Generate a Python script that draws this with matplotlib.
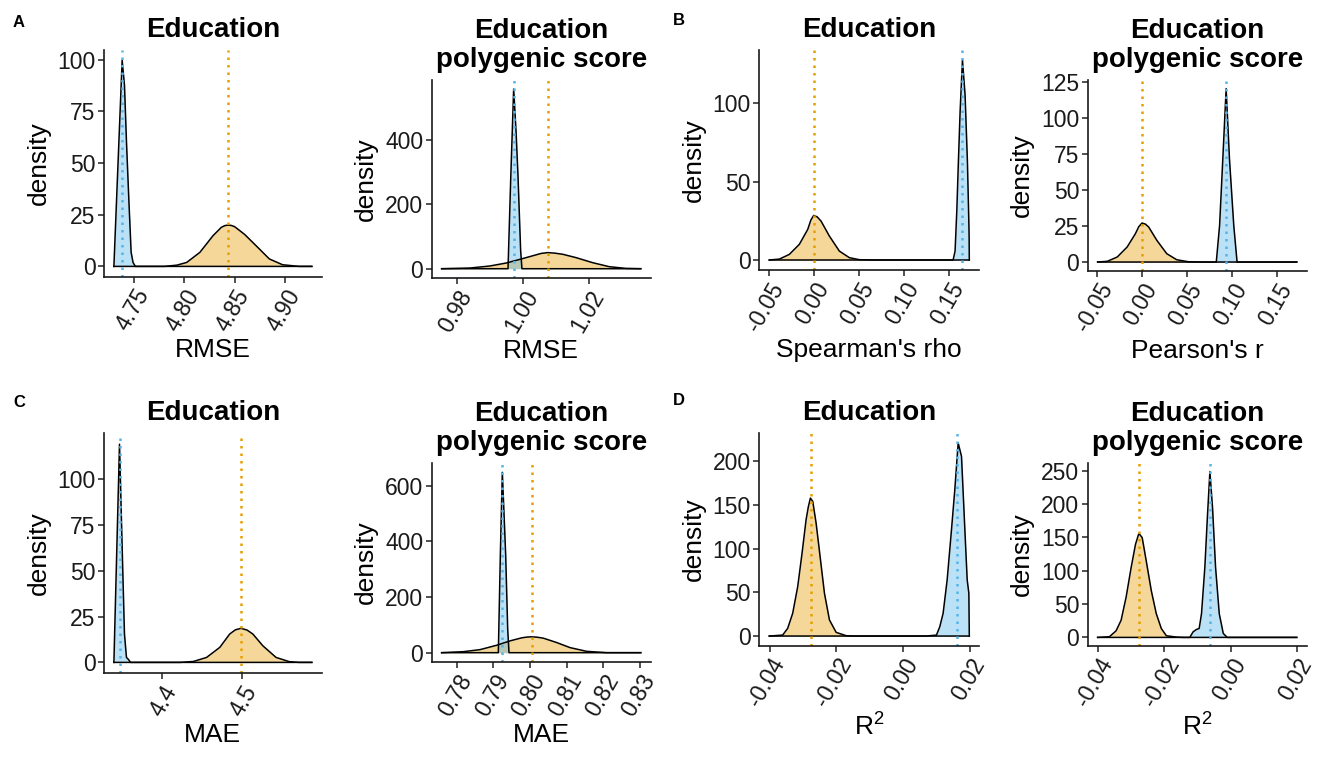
import matplotlib.pyplot as plt

plt.rcParams['font.family'] = ['Liberation Sans', 'DejaVu Sans']
plt.rcParams['mathtext.fontset'] = 'custom'
plt.rcParams['mathtext.rm'] = 'Liberation Sans'
plt.rcParams['mathtext.it'] = 'Liberation Sans:italic'

BLUE = '#56B4E9'
ORANGE = '#E69F00'

# A, Education, RMSE
a1_or_x = [4.7303, 4.7805, 4.7927, 4.8025, 4.8156, 4.8287, 4.8369, 4.8402, 4.8435,
           4.8468, 4.8501, 4.8599, 4.8730, 4.8845, 4.8976, 4.9140, 4.9266]
a1_or_y = [0, 0, 0.6, 1.9, 6.8, 14.9, 18.9, 19.7, 20.0, 19.8, 19.2, 15.5, 9.2,
           3.6, 0.8, 0, 0]
a1_bl_x = [4.7303, 4.7385, 4.7408, 4.7428, 4.7451, 4.7474, 4.7493, 4.7516, 4.9266]
a1_bl_y = [0, 99.7, 87.6, 60, 32.6, 6.8, 1.9, 0, 0]
a1_means = [4.8435, 4.7386]

# A, Education polygenic score, RMSE
a2_or_x = [0.97548, 0.98402, 0.99005, 0.99508, 0.99960, 1.00362, 1.00560, 1.00764,
           1.00970, 1.01216, 1.01618, 1.02121, 1.02623, 1.03126, 1.03578]
a2_or_y = [0, 2.1, 8.4, 17.8, 30.3, 41.8, 47.5, 50.1, 48.5, 44.9, 34.5, 18.8,
           6.3, 1.0, 0]
a2_bl_x = [0.97548, 0.99558, 0.99640, 0.99729, 0.99800, 0.99859, 0.99940, 0.99980, 1.03578]
a2_bl_y = [0, 0, 280, 559, 430, 292, 57, 0, 0]
a2_means = [1.0076, 0.9973]

# B, Education, Spearman's rho
b1_or_x = [-0.0497, -0.0384, -0.0274, -0.0163, -0.0070, -0.0035, -0.0004, 0.0035,
           0.0078, 0.0170, 0.0281, 0.0392, 0.0503, 0.0651, 0.1725]
b1_or_y = [0, 0.6, 3.6, 10.0, 19.5, 25.5, 28.4, 27.5, 24.8, 15.3, 5.7, 1.5, 0.2, 0, 0]
b1_bl_x = [-0.0497, 0.1545, 0.1567, 0.1586, 0.1604, 0.1623, 0.1649, 0.1678,
           0.1704, 0.1720, 0.1723, 0.1725]
b1_bl_y = [0, 0, 5.7, 31.1, 62.9, 94.7, 127.5, 105.3, 62.9, 24.0, 15.0, 0]
b1_means = [0.0, 0.1645]

# B, Education polygenic score, Pearson's r
b2_or_x = [-0.0497, -0.0389, -0.0278, -0.0168, -0.0076, -0.0038, -0.0002, 0.0035,
           0.0072, 0.0164, 0.0274, 0.0385, 0.0514, 0.0661, 0.1725]
b2_or_y = [0, 0.5, 3.5, 10.4, 19.6, 24.5, 27.0, 26.3, 24.3, 15.0, 5.8, 1.6, 0.2, 0, 0]
b2_bl_x = [-0.0497, 0.0827, 0.0864, 0.0900, 0.0937, 0.0974, 0.1022, 0.1059, 0.1725]
b2_bl_y = [0, 0, 25.4, 71.6, 120.1, 71.6, 25.4, 0, 0]
b2_means = [0.0, 0.0937]

# C, Education, MAE
c1_or_x = [4.3405, 4.4231, 4.4397, 4.4562, 4.4727, 4.4851, 4.4922, 4.4992, 4.5066,
           4.5140, 4.5264, 4.5430, 4.5595, 4.5719, 4.5876]
c1_or_y = [0, 0, 0.5, 2.7, 8.2, 15.5, 17.8, 18.6, 17.7, 15.5, 9.1, 2.7, 0.4, 0, 0]
c1_bl_x = [4.3405, 4.3475, 4.3508, 4.3537, 4.3562, 4.3587, 4.3612, 4.5876]
c1_bl_y = [0, 119.2, 63.0, 15.5, 2.7, 1.6, 0, 0]
c1_means = [4.4995, 4.3475]

# C, Education polygenic score, MAE
c2_or_x = [0.77591, 0.78182, 0.78636, 0.79091, 0.79455, 0.79773, 0.79910, 0.80045,
           0.80200, 0.80364, 0.80727, 0.81091, 0.81545, 0.82091, 0.83018]
c2_or_y = [0, 3.6, 10.9, 26.7, 42.4, 53.3, 56.0, 57.0, 55.5, 52.1, 36.4, 18.2,
           4.8, 0, 0]
c2_bl_x = [0.77591, 0.79136, 0.79191, 0.79245, 0.79336, 0.79391, 0.79427, 0.83018]
c2_bl_y = [0, 0, 352, 648, 352, 85, 0, 0]
c2_means = [0.80064, 0.79240]

# D, Education, R^2
d1_or_x = [-0.04014, -0.03613, -0.03462, -0.03312, -0.03161, -0.03031, -0.02910,
           -0.02840, -0.02780, -0.02709, -0.02609, -0.02489, -0.02358, -0.02208,
           -0.02007, -0.01706, -0.01505, 0.0199]
d1_or_y = [0, 1.1, 8.8, 26.0, 56.6, 94.8, 133.1, 148.4, 157.9, 154.1, 129.3,
           91.0, 48.9, 18.4, 4.2, 0.4, 0, 0]
d1_bl_x = [-0.04014, 0.00702, 0.01004, 0.01104, 0.01204, 0.01325, 0.01455,
           0.01555, 0.01656, 0.01756, 0.01857, 0.01927, 0.01977, 0.0199]
d1_bl_y = [0, 0, 1.1, 10.7, 26.0, 64.2, 121.6, 167.5, 221.0, 205.7, 121.6,
           64.2, 48.9, 0]
d1_means = [-0.0276, 0.01626]

# D, Education polygenic score, R^2
d2_or_x = [-0.04004, -0.03651, -0.03449, -0.03298, -0.03147, -0.02995, -0.02864,
           -0.02763, -0.02663, -0.02542, -0.02390, -0.02239, -0.02088, -0.01936,
           -0.01634, -0.01432, 0.0199]
d2_or_y = [0, 1.0, 9.9, 25.7, 60.4, 105.0, 139.6, 155.9, 149.5, 114.9, 70.3,
           35.6, 13.4, 2.5, 0.5, 0, 0]
d2_bl_x = [-0.04004, -0.01230, -0.01130, -0.01029, -0.00948, -0.00877, -0.00777,
           -0.00696, -0.00625, -0.00545, -0.00454, -0.00343, -0.00222, -0.00101, 0.0199]
d2_bl_y = [0, 0, 8.4, 11.9, 13.4, 35.6, 105.0, 184.2, 248.5, 194.1, 105.0,
           35.6, 5.9, 0, 0]
d2_means = [-0.02774, -0.00625]

# ---- ticks and labels
titles = ['Education', 'Education\npolygenic score'] * 4
xlabels = ['RMSE', 'RMSE', "Spearman's rho", "Pearson's r", 'MAE', 'MAE',
           'R$^2$', 'R$^2$']
xticks = [[4.75, 4.80, 4.85, 4.90], [0.98, 1.00, 1.02],
          [-0.05, 0.00, 0.05, 0.10, 0.15], [-0.05, 0.00, 0.05, 0.10, 0.15],
          [4.4, 4.5], [0.78, 0.79, 0.80, 0.81, 0.82, 0.83],
          [-0.04, -0.02, 0.00, 0.02], [-0.04, -0.02, 0.00, 0.02]]
xticklabels = [['4.75', '4.80', '4.85', '4.90'], ['0.98', '1.00', '1.02'],
               ['-0.05', '0.00', '0.05', '0.10', '0.15'],
               ['-0.05', '0.00', '0.05', '0.10', '0.15'],
               ['4.4', '4.5'], ['0.78', '0.79', '0.80', '0.81', '0.82', '0.83'],
               ['-0.04', '-0.02', '0.00', '0.02'], ['-0.04', '-0.02', '0.00', '0.02']]
yticks = [[0, 25, 50, 75, 100], [0, 200, 400], [0, 50, 100],
          [0, 25, 50, 75, 100, 125], [0, 25, 50, 75, 100], [0, 200, 400, 600],
          [0, 50, 100, 150, 200], [0, 50, 100, 150, 200, 250]]
letters = ['A', 'B', 'C', 'D']

curves = [(a1_or_x, a1_or_y, a1_bl_x, a1_bl_y, a1_means),
          (a2_or_x, a2_or_y, a2_bl_x, a2_bl_y, a2_means),
          (b1_or_x, b1_or_y, b1_bl_x, b1_bl_y, b1_means),
          (b2_or_x, b2_or_y, b2_bl_x, b2_bl_y, b2_means),
          (c1_or_x, c1_or_y, c1_bl_x, c1_bl_y, c1_means),
          (c2_or_x, c2_or_y, c2_bl_x, c2_bl_y, c2_means),
          (d1_or_x, d1_or_y, d1_bl_x, d1_bl_y, d1_means),
          (d2_or_x, d2_or_y, d2_bl_x, d2_bl_y, d2_means)]

# panel boxes in pixels: left, right, top, bottom
W, H = 1325, 758
boxes = [(104, 321.7, 50, 276.7), (431.7, 650.7, 80, 277.7),
         (759.3, 979.3, 50, 270), (1087.7, 1306.7, 80, 270.7),
         (104, 321.7, 433.3, 673.3), (431.7, 650.7, 463.3, 661.7),
         (759.3, 979.3, 433.3, 645.7), (1087.7, 1306.7, 463.3, 645.7)]
letter_pos = [(13, 27), (673, 25), (13, 406.7), (673, 405)]

fig = plt.figure(figsize=(W / 100, H / 100), dpi=100)
dots = (0, (1, 2))

for i in range(8):
    l, r, t, b = boxes[i]
    ox, oy, bx, by, means = curves[i]
    ax = fig.add_axes([l / W, 1 - b / H, (r - l) / W, (b - t) / H])

    ax.fill_between(ox, oy, color=ORANGE, alpha=0.4, lw=0)
    ax.plot(ox, oy, color='black', lw=1.1)
    ax.fill_between(bx, by, color=BLUE, alpha=0.4, lw=0)
    ax.plot(bx, by, color='black', lw=1.1)
    ax.axvline(means[0], color=ORANGE, ls=dots, lw=1.8)
    ax.axvline(means[1], color=BLUE, ls=dots, lw=1.8)

    xmin = min(min(ox), min(bx))
    xmax = max(max(ox), max(bx))
    ymax = max(max(oy), max(by))
    ax.set_xlim(xmin - 0.05 * (xmax - xmin), xmax + 0.05 * (xmax - xmin))
    ax.set_ylim(-0.05 * ymax, 1.05 * ymax)

    for s in ['top', 'right']:
        ax.spines[s].set_visible(False)
    for s in ['left', 'bottom']:
        ax.spines[s].set_linewidth(1.2)
        ax.spines[s].set_color('#1a1a1a')
    ax.tick_params(length=4, width=1.2, color='#333333', labelsize=16.5,
                   labelcolor='#1a1a1a', pad=2)
    ax.set_xticks(xticks[i])
    ax.set_xticklabels(xticklabels[i], rotation=60, ha='right',
                       rotation_mode='anchor')
    ax.set_yticks(yticks[i])
    ax.set_xlabel(xlabels[i], fontsize=19, labelpad=2)
    ax.set_ylabel('density', fontsize=19, labelpad=5)

    # title lines, last baseline 13 px above the panel
    lines = titles[i].split('\n')
    for k, line in enumerate(lines):
        yb = t - 13 - (len(lines) - 1 - k) * 29.4
        fig.text((l + r) / 2 / W, 1 - yb / H, line, ha='center', va='baseline',
                 fontsize=20, fontweight='bold')

for (x, y), s in zip(letter_pos, letters):
    fig.text(x / W, 1 - y / H, s, ha='left', va='baseline', fontsize=12,
             fontweight='bold')

fig.savefig('out.png', dpi=100)
